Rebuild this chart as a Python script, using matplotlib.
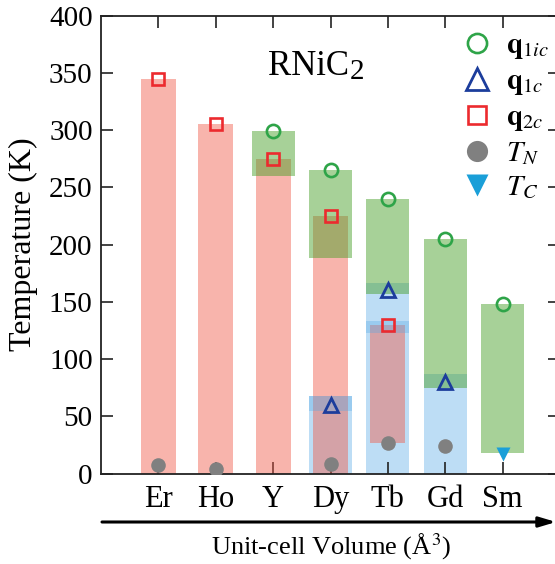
import numpy as np
import matplotlib
matplotlib.use("Agg")
import matplotlib.pyplot as plt
from matplotlib.lines import Line2D

plt.rcParams['font.family'] = ['Liberation Serif', 'DejaVu Serif']
plt.rcParams['mathtext.fontset'] = 'stix'

# ---------------- data ----------------
categories = ['Er', 'Ho', 'Y', 'Dy', 'Tb', 'Gd', 'Sm']
nan = np.nan
q1ic = [nan, nan, 299, 265, 240, 205, 148]
q1c = [nan, nan, nan, 60, 160, 80, nan]
q2c = [345, 305, 275, 225, 130, nan, nan]
TN = [7, 4, nan, 8.5, 27, 24, nan]
TC = [nan, nan, nan, nan, nan, nan, 17]

red_cat = ['Er', 'Ho', 'Y', 'Dy', 'Tb']
red_lo = [0, 0, 0, 0, 27]
red_hi = [345, 305, 275, 225, 129.5]

green_cat = ['Y', 'Dy', 'Tb', 'Gd', 'Sm']
green_lo = [260, 188, 157, 75, 18]
green_hi = [299, 265, 240, 205, 148]

blue_cat = ['Dy', 'Tb', 'Gd']
blue_lo = [0, 0, 0]
blue_hi = [67.5, 166.5, 87]

band_cat = ['Dy', 'Tb']
band_lo = [54.5, 123]
band_hi = [67.5, 133]

yticks = [0, 50, 100, 150, 200, 250, 300, 350, 400]

# ---------------- figure ----------------
W, H = 555, 564
fig = plt.figure(figsize=(W / 100, H / 100), dpi=100)
ax = fig.add_axes([101 / W, (H - 473.5) / H, (560 - 101) / W, 457.8 / H])

pos = {c: i for i, c in enumerate(categories)}
x = np.arange(len(categories))

def rects(cats, lo, hi, width, color, alpha, z):
    xs = [pos[c] for c in cats]
    h = np.array(hi) - np.array(lo)
    ax.bar(xs, h, bottom=lo, width=width, color=color, alpha=alpha,
           linewidth=0, zorder=z)

wide, narrow = 0.75, 0.61
rects(blue_cat, blue_lo, blue_hi, wide, '#5aaae6', 0.40, 1)
rects(red_cat, red_lo, red_hi, narrow, '#f15a48', 0.45, 2)
rects(green_cat, green_lo, green_hi, wide, '#48a028', 0.48, 3)
rects(band_cat, band_lo, band_hi, wide, '#5aaae6', 0.35, 4)

c_green = '#2ea448'
c_blue = '#1c3d9c'
c_red = '#ec2a2e'
c_grey = '#808080'
c_cyan = '#1a9fd8'

ax.plot(x, q1ic, 'o', mfc='none', mec=c_green, ms=9.5, mew=1.9, zorder=6, ls='none')
ax.plot(x, q1c, '^', mfc='none', mec=c_blue, ms=10.5, mew=2.0, zorder=6, ls='none')
ax.plot(x, q2c, 's', mfc='none', mec=c_red, ms=9, mew=1.9, zorder=6, ls='none')
ax.plot(x, TN, 'o', mfc=c_grey, mec='none', ms=10.5, zorder=6, ls='none')
ax.plot(x, TC, 'v', mfc=c_cyan, mec='none', ms=10.5, zorder=6, ls='none')

ax.set_xlim(-1, 7)
ax.set_ylim(0, 400)
ax.set_xticks(x)
ax.set_xticklabels(categories)
ax.set_yticks(yticks)
ax.tick_params(axis='both', direction='in', length=8.3, width=1.2,
               top=True, right=True, color='#222222')
ax.tick_params(axis='x', labelsize=22, pad=8)
ax.tick_params(axis='y', labelsize=21, pad=6)
for s in ax.spines.values():
    s.set_linewidth(1.3)
    s.set_color('#222222')

ax.set_ylabel('Temperature (K)', fontsize=23, labelpad=8)

# title inside the plot
t1 = fig.text(268 / W, 1 - 75 / H, 'RNiC', fontsize=25, va='baseline', ha='left')
ax.annotate('2', xy=(1, 0), xycoords=t1, xytext=(0.5, -1.5),
            textcoords='offset points', fontsize=21, va='bottom', ha='left')

# legend
handles = [
    Line2D([], [], ls='none', marker='o', mfc='none', mec=c_green, ms=9.5, mew=1.9),
    Line2D([], [], ls='none', marker='^', mfc='none', mec=c_blue, ms=10.5, mew=2.0),
    Line2D([], [], ls='none', marker='s', mfc='none', mec=c_red, ms=9, mew=1.9),
    Line2D([], [], ls='none', marker='o', mfc=c_grey, mec='none', ms=10.5),
    Line2D([], [], ls='none', marker='v', mfc=c_cyan, mec='none', ms=10.5),
]
labels = [r'$\mathbf{q}_{1ic}$', r'$\mathbf{q}_{1c}$', r'$\mathbf{q}_{2c}$',
          r'$T_N$', r'$T_C$']
leg = ax.legend(handles, labels, loc='upper left',
                bbox_to_anchor=(462 / W, 1 - 33 / H), bbox_transform=fig.transFigure,
                frameon=False, fontsize=21, markerscale=1.45, handlelength=1.0,
                handletextpad=0.5, labelspacing=0.25, borderpad=0, borderaxespad=0)

# x-axis label with arrow
ax.annotate('', xy=(556 / W, 1 - 522 / H), xytext=(102 / W, 1 - 522 / H),
            xycoords='figure fraction', textcoords='figure fraction',
            arrowprops=dict(arrowstyle='-|>,head_length=1.0,head_width=0.3',
                            lw=2.2, color='black', shrinkA=0, shrinkB=0))
fig.text(331 / W, 1 - 547 / H, 'Unit-cell Volume (Å$^{3}$)', fontsize=19,
         ha='center', va='center')

fig.savefig('out.png', dpi=100)
